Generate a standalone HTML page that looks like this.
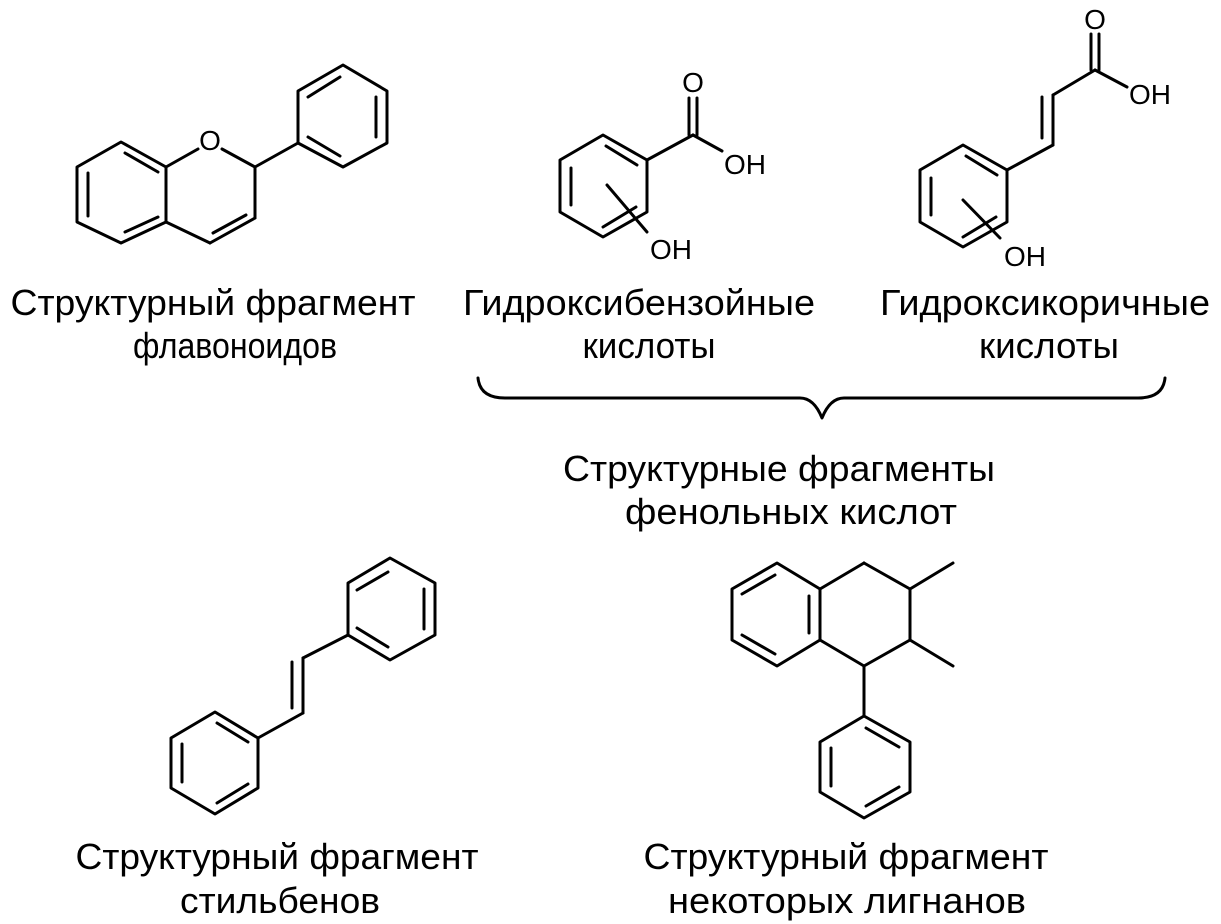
<!DOCTYPE html>
<html><head><meta charset="utf-8"><style>
html,body{margin:0;padding:0;background:#fff;}
svg{display:block}
text{font-family:"Liberation Sans",Arial,sans-serif;fill:#000}
.t{font-size:36px}
.a{font-size:28px}
</style></head><body>
<svg width="1221" height="924" viewBox="0 0 1221 924" xmlns="http://www.w3.org/2000/svg">
<g stroke="#000" stroke-width="3" fill="none" stroke-linecap="round" stroke-linejoin="round">
<!-- Flavone: benzo ring -->
<polygon points="121,142 166,167 166,222 121,243 77,222 77,167"/>
<line x1="125" y1="153" x2="158" y2="172"/>
<line x1="88" y1="173" x2="88" y2="216"/>
<line x1="125" y1="232" x2="158" y2="217"/>
<!-- pyran -->
<line x1="166" y1="167" x2="198" y2="149"/>
<line x1="222" y1="149" x2="255" y2="167"/>
<line x1="255" y1="167" x2="255" y2="218"/>
<line x1="255" y1="218" x2="210" y2="243"/>
<line x1="166" y1="222" x2="210" y2="243"/>
<line x1="246" y1="215" x2="213" y2="233"/>
<line x1="255" y1="167" x2="298" y2="143"/>
<!-- phenyl -->
<polygon points="343,65 387,91 387,143 343,167 298,143 298,91"/>
<line x1="308" y1="97" x2="340" y2="77"/>
<line x1="376" y1="97" x2="376" y2="137"/>
<line x1="308" y1="137" x2="340" y2="156"/>

<!-- Hydroxybenzoic -->
<polygon points="603,135 647,160 647,212 603,237 560,212 560,160"/>
<line x1="606" y1="146" x2="637" y2="165"/>
<line x1="571" y1="168" x2="571" y2="205"/>
<line x1="603" y1="227" x2="636" y2="207"/>
<line x1="647" y1="160" x2="693" y2="135"/>
<line x1="693" y1="135" x2="722" y2="151"/>
<line x1="689" y1="135" x2="689" y2="98"/>
<line x1="697" y1="135" x2="697" y2="98"/>
<line x1="607" y1="185" x2="647" y2="232"/>

<!-- Hydroxycinnamic -->
<polygon points="963,145 1007,170 1007,222 963,247 920,222 920,170"/>
<line x1="966" y1="156" x2="997" y2="175"/>
<line x1="931" y1="178" x2="931" y2="215"/>
<line x1="963" y1="237" x2="996" y2="217"/>
<line x1="1007" y1="170" x2="1053" y2="145"/>
<line x1="1053" y1="145" x2="1053" y2="95"/>
<line x1="1042" y1="138" x2="1042" y2="97"/>
<line x1="1053" y1="95" x2="1095" y2="70"/>
<line x1="1095" y1="70" x2="1127" y2="87"/>
<line x1="1091" y1="70" x2="1091" y2="34"/>
<line x1="1099" y1="70" x2="1099" y2="34"/>
<line x1="963" y1="200" x2="1000" y2="238"/>

<!-- Stilbene -->
<polygon points="390,558 435,583 435,635 390,660 348,635 348,583"/>
<line x1="357" y1="590" x2="388" y2="572"/>
<line x1="424" y1="589" x2="424" y2="629"/>
<line x1="357" y1="628" x2="388" y2="647"/>
<line x1="348" y1="635" x2="303" y2="658"/>
<line x1="303" y1="658" x2="303" y2="713"/>
<line x1="292" y1="662" x2="292" y2="708"/>
<line x1="303" y1="713" x2="258" y2="738"/>
<polygon points="215,712 258,738 258,788 215,814 171,788 171,738"/>
<line x1="217" y1="723" x2="248" y2="742"/>
<line x1="182" y1="744" x2="182" y2="782"/>
<line x1="217" y1="803" x2="248" y2="784"/>

<!-- Lignan -->
<polygon points="777,563 820,589 820,640 777,666 732,640 732,589"/>
<line x1="742" y1="594" x2="775" y2="575"/>
<line x1="809" y1="596" x2="809" y2="633"/>
<line x1="742" y1="635" x2="775" y2="654"/>
<line x1="820" y1="589" x2="864" y2="563"/>
<line x1="864" y1="563" x2="910" y2="589"/>
<line x1="910" y1="589" x2="910" y2="640"/>
<line x1="910" y1="640" x2="864" y2="666"/>
<line x1="864" y1="666" x2="820" y2="640"/>
<line x1="910" y1="589" x2="953" y2="563"/>
<line x1="910" y1="640" x2="953" y2="666"/>
<line x1="864" y1="666" x2="864" y2="716"/>
<polygon points="864,716 910,742 910,792 864,818 820,792 820,742"/>
<line x1="866" y1="728" x2="899" y2="747"/>
<line x1="831" y1="748" x2="831" y2="786"/>
<line x1="866" y1="806" x2="899" y2="787"/>

<!-- Brace -->
<path d="M478,378 Q480,398 505,398 L800,398 Q814,398 822,418 Q830,398 844,398 L1138,398 Q1163,398 1165,378"/>
</g>

<!-- atom labels -->
<text class="a" x="210" y="150" text-anchor="middle">O</text>
<text class="a" x="693" y="92" text-anchor="middle">O</text>
<text class="a" x="724" y="174">OH</text>
<text class="a" x="650" y="259">OH</text>
<text class="a" x="1095" y="29" text-anchor="middle">O</text>
<text class="a" x="1129" y="104">OH</text>
<text class="a" x="1004" y="266">OH</text>

<!-- captions -->
<text class="t" x="213" y="315" text-anchor="middle" textLength="405" lengthAdjust="spacingAndGlyphs">Структурный фрагмент</text>
<text class="t" x="235" y="358" text-anchor="middle" textLength="204" lengthAdjust="spacingAndGlyphs">флавоноидов</text>
<text class="t" x="639" y="315" text-anchor="middle" textLength="352" lengthAdjust="spacingAndGlyphs">Гидроксибензойные</text>
<text class="t" x="649" y="358" text-anchor="middle" textLength="133" lengthAdjust="spacingAndGlyphs">кислоты</text>
<text class="t" x="1045" y="315" text-anchor="middle" textLength="330" lengthAdjust="spacingAndGlyphs">Гидроксикоричные</text>
<text class="t" x="1049" y="358" text-anchor="middle" textLength="140" lengthAdjust="spacingAndGlyphs">кислоты</text>
<text class="t" x="779" y="481" text-anchor="middle" textLength="432" lengthAdjust="spacingAndGlyphs">Структурные фрагменты</text>
<text class="t" x="791" y="524" text-anchor="middle" textLength="332" lengthAdjust="spacingAndGlyphs">фенольных кислот</text>
<text class="t" x="277" y="869" text-anchor="middle" textLength="403" lengthAdjust="spacingAndGlyphs">Структурный фрагмент</text>
<text class="t" x="280" y="913" text-anchor="middle" textLength="200" lengthAdjust="spacingAndGlyphs">стильбенов</text>
<text class="t" x="846" y="869" text-anchor="middle" textLength="405" lengthAdjust="spacingAndGlyphs">Структурный фрагмент</text>
<text class="t" x="847" y="913" text-anchor="middle" textLength="358" lengthAdjust="spacingAndGlyphs">некоторых лигнанов</text>
</svg>
</body></html>
